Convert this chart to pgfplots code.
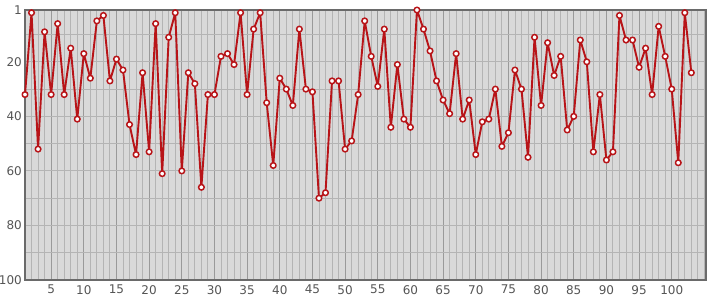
\documentclass[border=0pt]{standalone}
\usepackage{fontspec}
\setmainfont{DejaVu Sans}
\usepackage{pgfplots}
\pgfplotsset{compat=1.18}
\definecolor{bg}{HTML}{D9D9D9}
\definecolor{gmin}{HTML}{B4B4B4}
\definecolor{gmaj}{HTML}{9A9A9A}
\definecolor{frame}{HTML}{6A6A6A}
\definecolor{lab}{HTML}{555555}
\definecolor{ser}{HTML}{B81418}
\begin{document}
\begin{tikzpicture}
\useasboundingbox (-25pt,-20pt) rectangle (690pt,280pt);
\begin{axis}[
  at={(0pt,0pt)}, anchor=south west,
  scale only axis, width=680.7pt, height=270pt,
  xmin=1, xmax=105.2, ymin=1, ymax=100, y dir=reverse,
  axis background/.style={fill=bg},
  axis line style={draw=frame, line width=1.6pt},
  xtick={5,10,...,100}, minor xtick={1,...,105},
  ytick={1,20,40,60,80,100}, minor ytick={10,30,50,70,90},
  major tick length=0pt, minor tick length=0pt,
  grid=both,
  minor x grid style={draw=gmin, line width=0.9pt},
  major x grid style={draw=gmaj, line width=1pt},
  minor y grid style={draw=gmin, line width=1pt},
  major y grid style={draw=gmin, line width=1pt},
  tick label style={font=\fontsize{12}{14}\selectfont, text=lab, inner sep=0pt},
  yticklabel style={xshift=-3pt},
  xticklabel style={yshift=-5pt},
  /pgf/number format/assume math mode=true,
  clip=false,
]
\addplot[color=ser, line width=1.9pt, line join=round, mark=*, mark size=2.8pt,
  mark options={fill=white, draw=ser, line width=1.5pt}] coordinates {
(1,32)(2,2)(3,52)(4,9)(5,32)(6,6)(7,32)(8,15)(9,41)(10,17)
(11,26)(12,5)(13,3)(14,27)(15,19)(16,23)(17,43)(18,54)(19,24)(20,53)
(21,6)(22,61)(23,11)(24,2)(25,60)(26,24)(27,28)(28,66)(29,32)(30,32)
(31,18)(32,17)(33,21)(34,2)(35,32)(36,8)(37,2)(38,35)(39,58)(40,26)
(41,30)(42,36)(43,8)(44,30)(45,31)(46,70)(47,68)(48,27)(49,27)(50,52)
(51,49)(52,32)(53,5)(54,18)(55,29)(56,8)(57,44)(58,21)(59,41)(60,44)
(61,1)(62,8)(63,16)(64,27)(65,34)(66,39)(67,17)(68,41)(69,34)(70,54)
(71,42)(72,41)(73,30)(74,51)(75,46)(76,23)(77,30)(78,55)(79,11)(80,36)
(81,13)(82,25)(83,18)(84,45)(85,40)(86,12)(87,20)(88,53)(89,32)(90,56)
(91,53)(92,3)(93,12)(94,12)(95,22)(96,15)(97,32)(98,7)(99,18)(100,30)
(101,57)(102,2)(103,24)
};
\end{axis}
\end{tikzpicture}
\end{document}
